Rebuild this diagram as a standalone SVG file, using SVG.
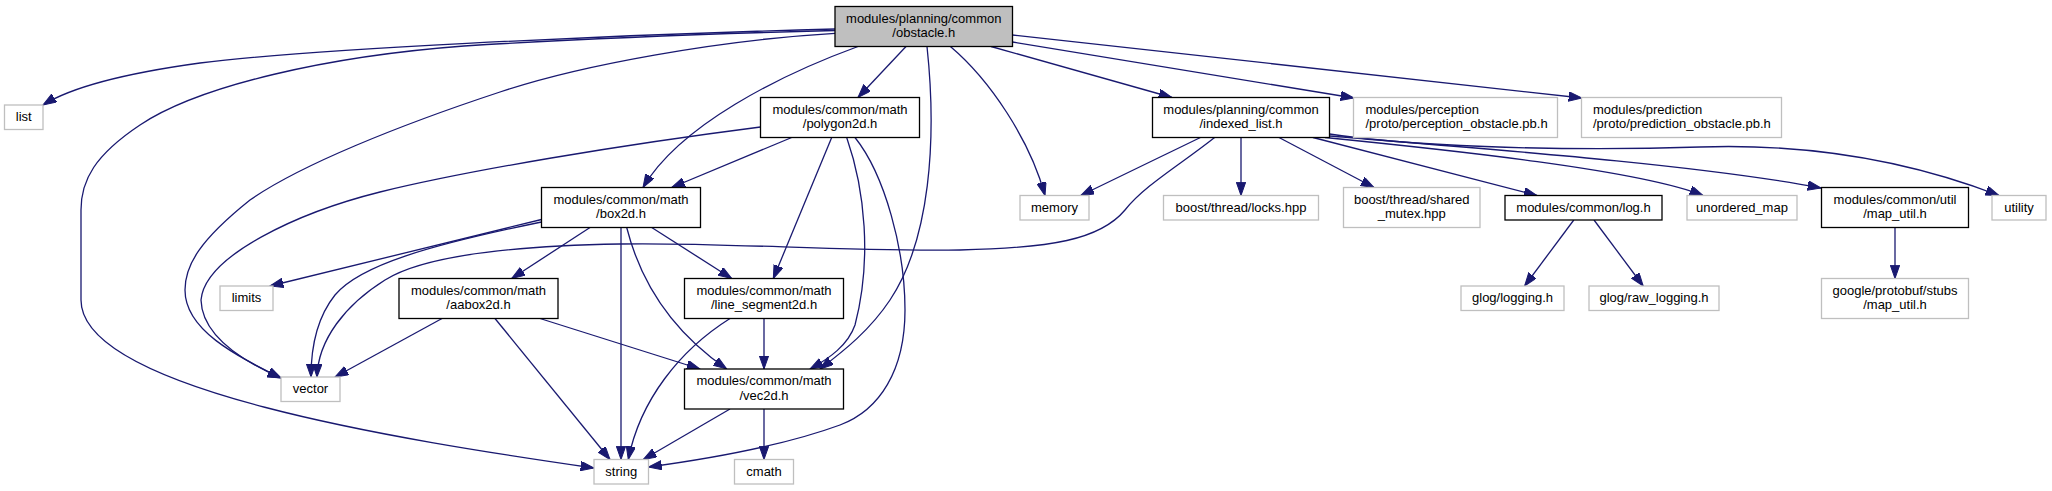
<svg xmlns="http://www.w3.org/2000/svg" width="2052" height="491" viewBox="0 0 2052 491">
<defs>
<style>
.n rect{fill:#ffffff;stroke:#000000;stroke-width:1.3}
.u rect{fill:#ffffff;stroke:#bfbfbf;stroke-width:1.3}
.root rect{fill:#bfbfbf;stroke:#000000;stroke-width:1.3}
text{font-family:"Liberation Sans",Arial,Helvetica,sans-serif;font-size:13px;fill:#000000;text-anchor:middle}
text.l{text-anchor:start}
#edges path{fill:none;stroke:#191970;stroke-width:1.3;marker-end:url(#arr)}
</style>
<marker id="arr" markerWidth="14" markerHeight="10" refX="13.3" refY="4.7" orient="auto" markerUnits="userSpaceOnUse">
<path d="M0,0 L13.3,4.7 L0,9.4 z" fill="#191970" stroke="#191970" stroke-width="1"/>
</marker>
</defs>
<rect x="0" y="0" width="2052" height="491" fill="#ffffff"/>
<g id="edges">
<path d="M835,29 C 600,35 300,50 200,63 C 120,74 70,88 43,105"/>
<path d="M835,30.5 C 700,34 560,40 464,46 C 330,56 200,85 140,125 C 95,155 81,180 81,210 L 81,300 C 81,390 400,440 594,468"/>
<path d="M835,33.3 C 720,40 580,65 500,92 C 400,125 300,165 250,200 C 200,240 185,265 185,290 C 185,330 235,355 281,378"/>
<path d="M858,46.5 C 780,75 680,125 643,187.5"/>
<path d="M906,46.5 L 858,97.5"/>
<path d="M927,46.5 C 937,140 930,240 890,300 C 870,330 845,350 820,369"/>
<path d="M950.4,46.5 C 990,80 1030,140 1045,195.5"/>
<path d="M991,46.5 L 1172,97.5"/>
<path d="M1012.5,42 L 1354,98"/>
<path d="M1012.5,35 L 1582,98"/>
<path d="M791.7,137.5 L 671.7,187.5"/>
<path d="M760.5,127 C 620,145 470,170 380,192 C 300,212 205,255 201,300 C 202,335 240,360 281,378"/>
<path d="M831.7,137.5 L 773.3,278.5"/>
<path d="M846.7,137.5 C 865,190 872,260 855,325 C 848,345 830,358 810,369"/>
<path d="M855,137.5 C 885,175 905,250 905,310 C 905,370 880,410 840,425 C 780,447 700,460 648.5,467"/>
<path d="M541.5,219.5 L 270,286"/>
<path d="M541.5,222 C 430,245 360,265 335,295 C 315,320 311,350 311,377"/>
<path d="M590,227.5 L 511.7,278.5"/>
<path d="M621,227.5 L 621,459.5"/>
<path d="M626.7,227.5 C 640,280 670,330 726.7,369"/>
<path d="M651.7,227.5 L 731.7,278.5"/>
<path d="M442,318.5 L 335,377"/>
<path d="M495,318.5 L 610,459.5"/>
<path d="M540,318.5 L 700,369"/>
<path d="M764,318.5 L 764,369"/>
<path d="M730,318.5 C 680,350 640,400 628.3,459.5"/>
<path d="M730,409 L 643.3,459.5"/>
<path d="M764,409 L 764,459.5"/>
<path d="M1200.4,137.5 L 1080.7,195.5"/>
<path d="M1214.6,137.5 C 1180,165 1145,185 1125,210 C 1100,240 1050,248 960,250 C 850,252 720,242 620,244 C 500,246 420,258 385,280 C 345,305 318,340 317,377"/>
<path d="M1241,137.5 L 1241,195.5"/>
<path d="M1279,137.5 L 1374,187.5"/>
<path d="M1313,137.5 L 1537,195.5"/>
<path d="M1325,137.5 C 1450,150 1640,170 1703,195.5"/>
<path d="M1329.5,136 C 1500,150 1700,165 1821,188"/>
<path d="M1329.5,134 C 1400,145 1550,152 1700,147 C 1820,143 1920,165 1999,195.5"/>
<path d="M1573.8,220 L 1524.6,286"/>
<path d="M1594,220 L 1643.2,286"/>
<path d="M1895,227.5 L 1895,278.5"/>
</g>
<g id="node-obstacle" class="root"><rect x="835" y="6.5" width="177.5" height="40"/><text x="923.75" y="22.5">modules/planning/common</text><text x="923.75" y="37.2">/obstacle.h</text></g>
<g id="node-list" class="u"><rect x="4.5" y="105" width="38.5" height="24.5"/><text x="23.75" y="121.3">list</text></g>
<g id="node-polygon2d" class="n"><rect x="760.5" y="97.5" width="159" height="40"/><text x="840" y="113.5">modules/common/math</text><text x="840" y="128.2">/polygon2d.h</text></g>
<g id="node-indexed_list" class="n"><rect x="1152.5" y="97.5" width="177" height="40"/><text x="1241" y="113.5">modules/planning/common</text><text x="1241" y="128.2">/indexed_list.h</text></g>
<g id="node-perception" class="u"><rect x="1353.5" y="97.5" width="204" height="40"/><text class="l" x="1365.5" y="113.5">modules/perception</text><text class="l" x="1365.5" y="128.2">/proto/perception_obstacle.pb.h</text></g>
<g id="node-prediction" class="u"><rect x="1581.5" y="97.5" width="200" height="40"/><text class="l" x="1593" y="113.5">modules/prediction</text><text class="l" x="1593" y="128.2">/proto/prediction_obstacle.pb.h</text></g>
<g id="node-box2d" class="n"><rect x="541.5" y="187.5" width="159" height="40"/><text x="621" y="203.5">modules/common/math</text><text x="621" y="218.2">/box2d.h</text></g>
<g id="node-memory" class="u"><rect x="1020" y="195.5" width="69" height="24.5"/><text x="1054.5" y="211.8">memory</text></g>
<g id="node-locks" class="u"><rect x="1163.5" y="195.5" width="155" height="24.5"/><text x="1241" y="211.8">boost/thread/locks.hpp</text></g>
<g id="node-shared_mutex" class="u"><rect x="1343.5" y="187.5" width="136.5" height="40"/><text x="1411.75" y="203.5">boost/thread/shared</text><text x="1411.75" y="218.2">_mutex.hpp</text></g>
<g id="node-log" class="n"><rect x="1505" y="195.5" width="157" height="24.5"/><text x="1583.5" y="211.8">modules/common/log.h</text></g>
<g id="node-unordered_map" class="u"><rect x="1687" y="195.5" width="110" height="24.5"/><text x="1742" y="211.8">unordered_map</text></g>
<g id="node-map_util" class="n"><rect x="1821.5" y="187.5" width="147" height="40"/><text x="1895" y="203.5">modules/common/util</text><text x="1895" y="218.2">/map_util.h</text></g>
<g id="node-utility" class="u"><rect x="1992" y="195.5" width="54" height="24.5"/><text x="2019" y="211.8">utility</text></g>
<g id="node-limits" class="u"><rect x="220" y="286" width="53" height="24.5"/><text x="246.5" y="302.3">limits</text></g>
<g id="node-aabox2d" class="n"><rect x="399" y="278.5" width="159" height="40"/><text x="478.5" y="294.5">modules/common/math</text><text x="478.5" y="309.2">/aabox2d.h</text></g>
<g id="node-line_segment2d" class="n"><rect x="684.5" y="278.5" width="159" height="40"/><text x="764" y="294.5">modules/common/math</text><text x="764" y="309.2">/line_segment2d.h</text></g>
<g id="node-glog_logging" class="u"><rect x="1461" y="286" width="103" height="24.5"/><text x="1512.5" y="302.3">glog/logging.h</text></g>
<g id="node-glog_raw_logging" class="u"><rect x="1589" y="286" width="130" height="24.5"/><text x="1654" y="302.3">glog/raw_logging.h</text></g>
<g id="node-protobuf_map_util" class="u"><rect x="1821.5" y="278.5" width="147" height="40"/><text x="1895" y="294.5">google/protobuf/stubs</text><text x="1895" y="309.2">/map_util.h</text></g>
<g id="node-vector" class="u"><rect x="281" y="377" width="59" height="24.5"/><text x="310.5" y="393.3">vector</text></g>
<g id="node-vec2d" class="n"><rect x="684.5" y="369" width="159" height="40"/><text x="764" y="385">modules/common/math</text><text x="764" y="399.7">/vec2d.h</text></g>
<g id="node-string" class="u"><rect x="594" y="459.5" width="54.5" height="24.5"/><text x="621.25" y="475.8">string</text></g>
<g id="node-cmath" class="u"><rect x="734.5" y="459.5" width="59" height="24.5"/><text x="764" y="475.8">cmath</text></g>
</svg>
